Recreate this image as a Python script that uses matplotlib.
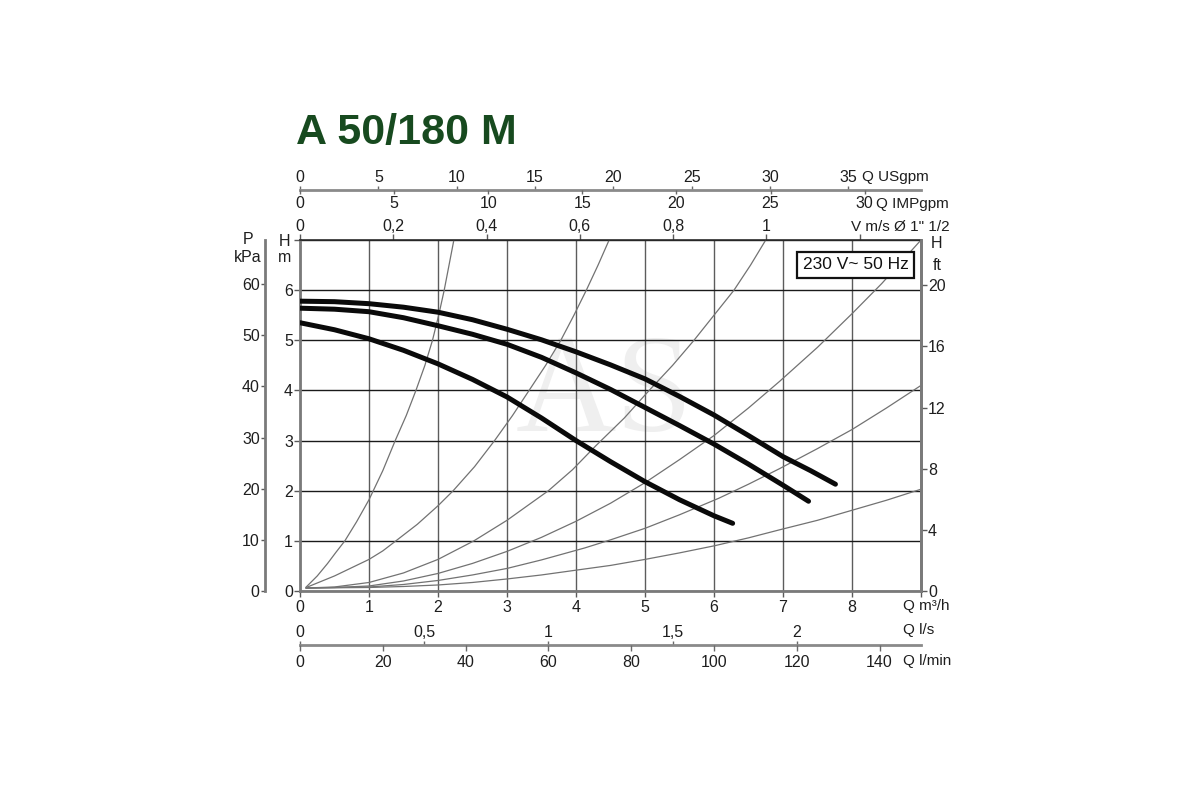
import matplotlib
matplotlib.use("Agg")
import matplotlib.pyplot as plt
from matplotlib import font_manager

# ---------------- data ----------------
# pump curves: Q [m3/h] -> H [m]
pump_top_q = [0, 0.5, 1, 1.5, 2, 2.5, 3, 3.5, 4, 4.5, 5, 5.5, 6, 6.5, 7, 7.4, 7.76]
pump_top_h = [5.78, 5.77, 5.73, 5.66, 5.56, 5.41, 5.22, 5.01, 4.77, 4.51, 4.23,
              3.88, 3.51, 3.10, 2.68, 2.40, 2.13]
pump_mid_q = [0, 0.5, 1, 1.5, 2, 2.5, 3, 3.5, 4, 4.5, 5, 5.5, 6, 6.5, 7, 7.37]
pump_mid_h = [5.64, 5.62, 5.57, 5.45, 5.29, 5.12, 4.92, 4.66, 4.35, 4.02, 3.66,
              3.30, 2.93, 2.53, 2.11, 1.79]
pump_low_q = [0, 0.5, 1, 1.5, 2, 2.5, 3, 3.5, 4, 4.5, 5, 5.5, 6, 6.27]
pump_low_h = [5.35, 5.21, 5.03, 4.80, 4.53, 4.22, 3.87, 3.45, 3.00, 2.58, 2.18,
              1.82, 1.50, 1.35]

# system (installation) curves, thin grey
sys_a_q = [0.09, 0.25, 0.40, 0.52, 0.65, 0.82, 1.00, 1.20, 1.38, 1.54, 1.68,
           1.81, 1.92, 2.01, 2.09, 2.16, 2.23]
sys_a_h = [0.08, 0.30, 0.55, 0.77, 1.00, 1.38, 1.82, 2.40, 3.00, 3.50, 4.00,
           4.50, 5.00, 5.50, 6.00, 6.50, 7.00]
sys_b_q = [0.09, 0.50, 1.00, 1.20, 1.39, 1.70, 2.00, 2.22, 2.53, 2.82, 3.08,
           3.32, 3.56, 3.78, 3.97, 4.15, 4.32, 4.48]
sys_b_h = [0.07, 0.30, 0.63, 0.80, 1.00, 1.33, 1.70, 2.00, 2.48, 3.00, 3.50,
           4.00, 4.50, 5.00, 5.50, 6.00, 6.50, 7.00]
sys_c_q = [0.09, 0.50, 1.00, 1.50, 2.00, 2.52, 3.00, 3.60, 3.95, 4.29, 4.70,
           5.06, 5.40, 5.71, 6.00, 6.29, 6.53, 6.75]
sys_c_h = [0.06, 0.08, 0.17, 0.36, 0.63, 1.00, 1.41, 2.00, 2.42, 2.90, 3.45,
           4.00, 4.50, 5.00, 5.50, 6.00, 6.50, 7.00]
sys_d_q = [0.09, 0.50, 1.00, 1.50, 2.00, 2.50, 3.00, 3.50, 4.00, 4.50, 5.00,
           5.50, 6.00, 6.50, 6.95, 7.50, 8.00, 8.43, 9.00]
sys_d_h = [0.06, 0.07, 0.10, 0.20, 0.35, 0.55, 0.79, 1.07, 1.39, 1.75, 2.16,
           2.62, 3.10, 3.65, 4.18, 4.86, 5.53, 6.13, 7.00]
sys_e_q = [0.09, 1.00, 1.50, 2.00, 2.50, 3.00, 3.50, 4.13, 4.50, 5.00, 5.50,
           6.07, 6.50, 6.95, 7.50, 8.00, 8.50, 9.00]
sys_e_h = [0.06, 0.08, 0.13, 0.21, 0.32, 0.45, 0.62, 0.86, 1.02, 1.25, 1.52,
           1.85, 2.13, 2.44, 2.84, 3.22, 3.65, 4.10]
sys_f_q = [0.09, 1.00, 1.50, 2.00, 2.50, 3.00, 3.50, 4.13, 4.50, 5.00, 5.50,
           6.00, 6.50, 6.95, 7.50, 8.00, 8.50, 9.00]
sys_f_h = [0.06, 0.07, 0.09, 0.12, 0.17, 0.24, 0.32, 0.44, 0.51, 0.63, 0.76,
           0.90, 1.06, 1.22, 1.41, 1.61, 1.81, 2.03]

# axis ticks / labels
q_ticks = [0, 1, 2, 3, 4, 5, 6, 7, 8, 9]
q_labels = ["0", "1", "2", "3", "4", "5", "6", "7", "8", ""]
h_ticks = [0, 1, 2, 3, 4, 5, 6, 7]
h_labels = ["0", "1", "2", "3", "4", "5", "6", ""]
kpa_ticks = [0, 10, 20, 30, 40, 50, 60]
ft_ticks = [0, 4, 8, 12, 16, 20]
v_ticks = [0, 0.2, 0.4, 0.6, 0.8, 1.0, 1.2]
v_labels = ["0", "0,2", "0,4", "0,6", "0,8", "1", ""]
usgpm_ticks = [0, 5, 10, 15, 20, 25, 30, 35]
impgpm_ticks = [0, 5, 10, 15, 20, 25, 30]
ls_ticks = [0, 0.5, 1, 1.5, 2]
ls_labels = ["0", "0,5", "1", "1,5", "2"]
lmin_ticks = [0, 20, 40, 60, 80, 100, 120, 140]

# unit conversions
M3H_TO_USGPM = 4.403
M3H_TO_IMPGPM = 3.666
M3H_TO_LS = 1 / 3.6
M3H_TO_LMIN = 1000 / 60
M_TO_KPA = 9.80665
M_TO_FT = 1 / 0.3048
M3H_PER_MS = 6.76   # 1 m/s in a 1 1/2" pipe

Q_MAX, H_MAX = 9, 7

# ---------------- fonts ----------------
avail = {f.name for f in font_manager.fontManager.ttflist}
narrow = "Liberation Sans Narrow" if "Liberation Sans Narrow" in avail else None
base = "Liberation Sans"
plt.rcParams["font.family"] = [base, "DejaVu Sans"]

TXT = "#1e1e1e"
TICK = "#5a5a5a"
LAB = 11.5
UNIT = 11

fig = plt.figure(figsize=(12, 8), dpi=100)
W_PX, H_PX = 1200, 800


def fx(px):
    return px / W_PX


def fy(py):
    return 1 - py / H_PX


L, R = fx(300), fx(921)
B, T = fy(591), fy(240)
ax = fig.add_axes([L, B, R - L, T - B])
ax.set_xlim(0, Q_MAX)
ax.set_ylim(0, H_MAX)
ax.set_axisbelow(True)

ax.set_xticks(q_ticks)
ax.set_xticklabels(q_labels)
ax.set_yticks(h_ticks)
ax.set_yticklabels(h_labels)
ax.xaxis.grid(True, color="#5c5c5c", lw=1.0)
ax.yaxis.grid(True, color="#1a1a1a", lw=1.0)
ax.tick_params(axis="x", direction="out", length=4, width=1, colors=TICK,
               labelcolor=TXT, labelsize=LAB, pad=2.5)
ax.tick_params(axis="y", direction="out", length=4, width=1, colors=TICK,
               labelcolor=TXT, labelsize=LAB, pad=1)
for s in ("left", "bottom", "right"):
    ax.spines[s].set_color("#7a7a7a")
    ax.spines[s].set_linewidth(2)
ax.spines["top"].set_color("#2a2a2a")
ax.spines["top"].set_linewidth(1.2)

# watermark
ax.text(0.49, 0.55, "AS", transform=ax.transAxes, fontsize=100,
        family="Liberation Serif", color="#efefef", ha="center", va="center",
        zorder=0.1)

# system curves
for q, h in [(sys_a_q, sys_a_h), (sys_b_q, sys_b_h), (sys_c_q, sys_c_h),
             (sys_d_q, sys_d_h), (sys_e_q, sys_e_h), (sys_f_q, sys_f_h)]:
    ax.plot(q, h, color="#727272", lw=0.9, zorder=2, solid_joinstyle="round")

# pump curves
for q, h in [(pump_top_q, pump_top_h), (pump_mid_q, pump_mid_h),
             (pump_low_q, pump_low_h)]:
    ax.plot(q, h, color="#0a0a0a", lw=3.6, solid_capstyle="round",
            solid_joinstyle="round", zorder=3)

# voltage box
ax.text(8.05, 6.51, "230 V~ 50 Hz", fontsize=12.5,
        family=[narrow or base, "DejaVu Sans"], color="#111",
        ha="center", va="center", zorder=5,
        bbox=dict(boxstyle="square,pad=0.32", fc="white", ec="#111", lw=1.6))

# kPa axis (left, outward)
ax_p = ax.twinx()
ax_p.set_ylim(0, H_MAX * M_TO_KPA)
ax_p.yaxis.set_ticks_position("left")
ax_p.set_yticks(kpa_ticks)
for s in ("top", "right", "bottom"):
    ax_p.spines[s].set_visible(False)
ax_p.spines["left"].set_visible(True)
ax_p.spines["left"].set_position(("outward", 25))
ax_p.spines["left"].set_color("#7a7a7a")
ax_p.spines["left"].set_linewidth(2)
ax_p.tick_params(axis="y", direction="out", length=3, width=1, colors=TICK,
                 labelcolor=TXT, labelsize=LAB, pad=1)

# ft axis (right)
ax_f = ax.twinx()
ax_f.set_ylim(0, H_MAX * M_TO_FT)
ax_f.set_yticks(ft_ticks)
for s in ("top", "left", "bottom"):
    ax_f.spines[s].set_visible(False)
ax_f.spines["right"].set_color("#7a7a7a")
ax_f.spines["right"].set_linewidth(2)
ax_f.tick_params(axis="y", direction="out", length=4, width=1, colors=TICK,
                 labelcolor=TXT, labelsize=LAB, pad=1)

# velocity axis (top of plot)
sec = ax.secondary_xaxis("top", functions=(lambda q: q / M3H_PER_MS,
                                           lambda v: v * M3H_PER_MS))
sec.set_xticks(v_ticks)
sec.set_xticklabels(v_labels)
sec.spines["top"].set_visible(False)
sec.tick_params(axis="x", direction="out", length=4, width=1, colors=TICK,
                labelcolor=TXT, labelsize=LAB, pad=0.5)


def scale_line(y_px, xmax, ticks, labels, side, tlen=4, pad=2, spine=True):
    a = fig.add_axes([L, fy(y_px), R - L, 1e-6])
    a.patch.set_visible(False)
    a.set_xlim(0, xmax)
    a.set_yticks([])
    for s in ("top", "left", "right", "bottom"):
        a.spines[s].set_visible(False)
    if spine:
        a.spines["bottom"].set_visible(True)
        a.spines["bottom"].set_color("#8a8a8a")
        a.spines["bottom"].set_linewidth(2)
    a.xaxis.set_ticks_position(side)
    a.set_xticks(ticks)
    a.set_xticklabels(labels if labels is not None else [str(t) for t in ticks])
    a.tick_params(axis="x", direction="out", length=tlen, width=1,
                  colors="#6a6a6a", labelcolor=TXT, labelsize=LAB, pad=pad)
    return a


# US / IMP gallons per minute (shared line)
scale_line(190, Q_MAX * M3H_TO_USGPM, usgpm_ticks, None, "top", tlen=3, pad=0.3)
scale_line(190, Q_MAX * M3H_TO_IMPGPM, impgpm_ticks, None, "bottom", tlen=3,
           pad=1.5, spine=False)
# l/s and l/min (shared line)
scale_line(645, Q_MAX * M3H_TO_LS, ls_ticks, ls_labels, "top", tlen=3, pad=0.8)
scale_line(645, Q_MAX * M3H_TO_LMIN, lmin_ticks, None, "bottom", tlen=4,
           pad=3, spine=False)


# unit labels
def ftxt(x, y, s, ha="left", size=UNIT, **kw):
    fig.text(fx(x), fy(y), s, ha=ha, va="center", fontsize=size, color=TXT, **kw)


ftxt(862, 177, "Q USgpm")
ftxt(876, 204, "Q IMPgpm")
ftxt(851, 227, "V m/s \u00d8 1\" 1/2")
ftxt(903, 606, "Q m\u00b3/h")
ftxt(903, 630, "Q l/s")
ftxt(903, 661, "Q l/min")
ftxt(285, 241, "H", ha="center", size=LAB)
ftxt(285, 258, "m", ha="center", size=LAB)
ftxt(248, 240, "P", ha="center", size=LAB)
ftxt(248, 257, "kPa", ha="center", size=LAB)
ftxt(937, 244, "H", ha="center", size=LAB)
ftxt(937, 266, "ft", ha="center", size=LAB)

# title
if narrow:
    fig.text(fx(296), fy(133), "A 50/180 M", fontsize=36.5, weight="bold",
             family=[narrow, "DejaVu Sans"], color="#174a1f", ha="left",
             va="center")
else:
    fig.text(fx(296), fy(133), "A 50/180 M", fontsize=31, weight="bold",
             family=[base, "DejaVu Sans"], color="#174a1f", ha="left",
             va="center")

fig.savefig("out.png", dpi=100, facecolor="white")
